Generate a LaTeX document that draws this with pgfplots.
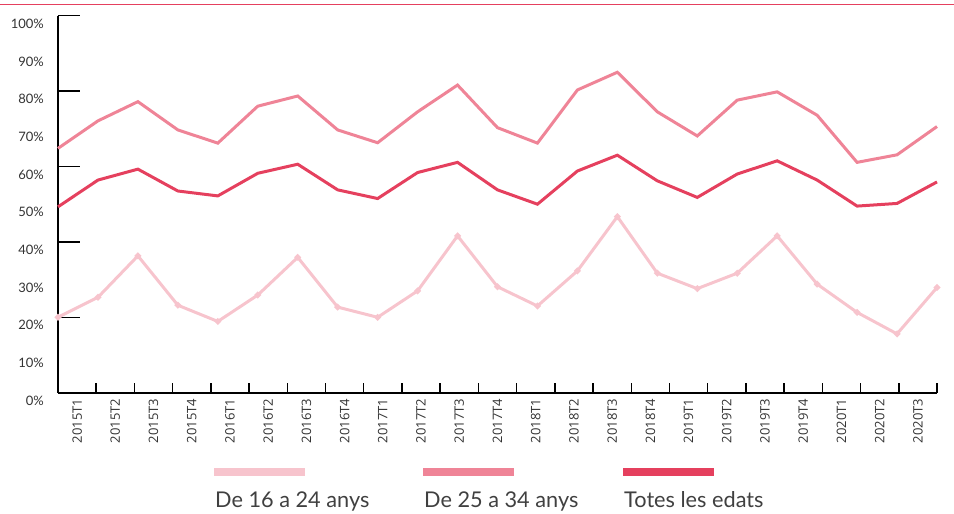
\documentclass[border=0pt]{standalone}
\usepackage{fontspec}
\setmainfont{Lato}
\newfontfamily\tickfont{Open Sans}
\usepackage{pgfplots}
\usepackage{pgfplotstable}
\pgfplotsset{compat=1.18}
\definecolor{cYoung}{HTML}{F7C4CD}
\definecolor{cMid}{HTML}{EF8497}
\definecolor{cAll}{HTML}{E5405E}
\definecolor{cDot}{HTML}{EE95A5}

\pgfplotstableread{
x young mid all
0  20.0 64.8 49.3
1  25.3 72.1 56.4
2  36.3 77.2 59.3
3  23.2 69.7 53.5
4  18.9 66.2 52.2
5  25.9 76.0 58.2
6  35.9 78.7 60.6
7  22.7 69.7 53.8
8  20.0 66.3 51.5
9  27.0 74.5 58.4
10 41.6 81.6 61.1
11 28.1 70.3 53.8
12 23.0 66.2 50.0
13 32.3 80.3 58.8
14 46.7 85.0 63.0
15 31.7 74.5 56.2
16 27.6 68.1 51.8
17 31.7 77.6 58.0
18 41.6 79.8 61.5
19 28.8 73.6 56.4
20 21.3 61.1 49.5
21 15.6 63.1 50.2
22 27.9 70.6 55.9
}\datatable

\begin{document}
\begin{tikzpicture}[x=1pt,y=1pt]
\path[use as bounding box] (0,0) rectangle (954,514);
\draw[cAll, line width=1.5pt] (0,509.5) -- (954,509.5);
\begin{axis}[
  scale only axis, width=879pt, height=377pt,
  at={(58pt,121.3pt)}, anchor=south west,
  xmin=0, xmax=22, ymin=0, ymax=100,
  axis lines=left,
  axis line style={-, line width=1.8pt, black},
  clip=false,
  tick align=inside,
  major tick length=10pt,
  xtick={0,0.95652,1.91304,2.86957,3.82609,4.78261,5.73913,6.69565,7.65217,8.60870,9.56522,10.52174,11.47826,12.43478,13.39130,14.34783,15.30435,16.26087,17.21739,18.17391,19.13043,20.08696,21.04348,22},
  x tick label as interval,
  xticklabels={2015T1,2015T2,2015T3,2015T4,2016T1,2016T2,2016T3,2016T4,2017T1,2017T2,2017T3,2017T4,2018T1,2018T2,2018T3,2018T4,2019T1,2019T2,2019T3,2019T4,2020T1,2020T2,2020T3},
  xticklabel shift=6pt,
  xticklabel style={font=\tickfont\fontsize{13}{13}\selectfont, rotate=90, anchor=east, inner sep=0pt, text=black!80},
  xtick style={line width=1.5pt, black},
  ytick={0,10,...,100},
  yticklabels={0\%,10\%,20\%,30\%,40\%,50\%,60\%,70\%,80\%,90\%,100\%},
  yticklabel style={font=\fontsize{13}{13}\selectfont, inner sep=0pt, xshift=-14pt, yshift=-8pt, text=black!80},
  ytick style={draw=none},
  extra y ticks={20,40,60,80,100},
  extra y tick labels={},
  extra y tick style={ytick style={draw=black, line width=1.5pt}, major tick length=22pt},
]
\addplot[cYoung, line width=3pt, mark=*, mark size=1.5pt, mark options={fill=cDot, draw=none}] table[x=x, y=young] {\datatable};
\addplot[cMid, line width=3pt] table[x=x, y=mid] {\datatable};
\addplot[cAll, line width=3pt] table[x=x, y=all] {\datatable};
\end{axis}
\fill[cYoung] (214,38.3) rectangle (305,46.3);
\fill[cMid] (423,38.3) rectangle (514,46.3);
\fill[cAll] (623,38.3) rectangle (714,46.3);
\node[anchor=base west, inner sep=0pt, text=black!75, font=\fontsize{21.7}{21.7}\selectfont] at (215,6) {De 16 a 24 anys};
\node[anchor=base west, inner sep=0pt, text=black!75, font=\fontsize{21.7}{21.7}\selectfont] at (424,6) {De 25 a 34 anys};
\node[anchor=base west, inner sep=0pt, text=black!75, font=\fontsize{21.7}{21.7}\selectfont] at (624,6) {Totes les edats};
\end{tikzpicture}
\end{document}
